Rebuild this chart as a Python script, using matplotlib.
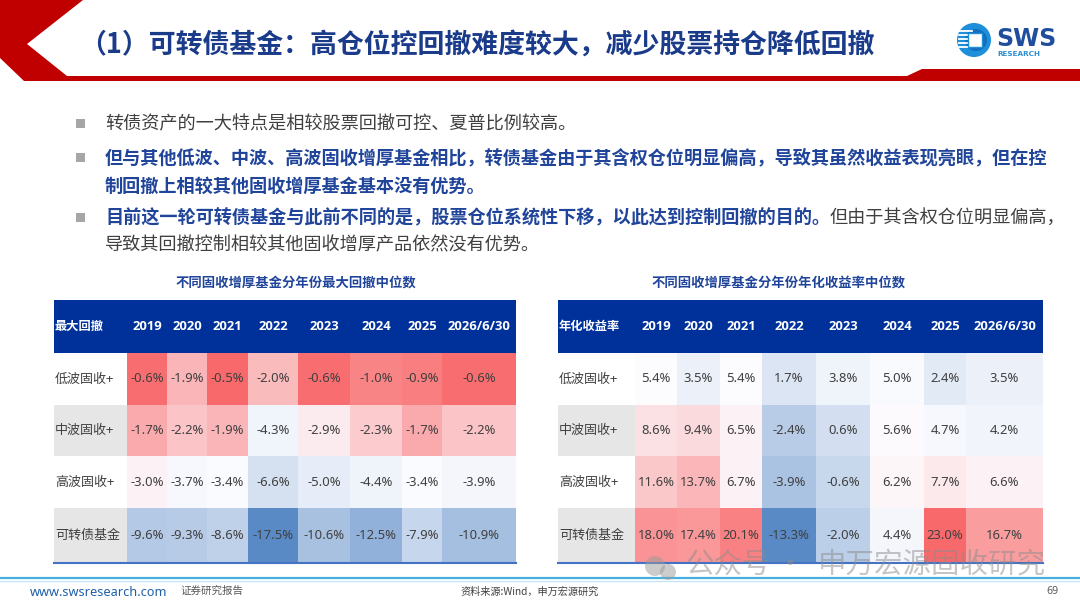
import numpy as np
import matplotlib
matplotlib.use("Agg")
import matplotlib.pyplot as plt
from matplotlib.colors import LinearSegmentedColormap, TwoSlopeNorm
from matplotlib.patches import Polygon, Circle, Rectangle

plt.rcParams['font.family'] = ['Noto Sans CJK SC', 'DejaVu Sans']

# ---------------- data ----------------
years = ["2019", "2020", "2021", "2022", "2023", "2024", "2025", "2026/6/30"]
fund_types = ["低波固收+", "中波固收+", "高波固收+", "可转债基金"]

drawdown_low = [-0.6, -1.9, -0.5, -2.0, -0.6, -1.0, -0.9, -0.6]
drawdown_mid = [-1.7, -2.2, -1.9, -4.3, -2.9, -2.3, -1.7, -2.2]
drawdown_high = [-3.0, -3.7, -3.4, -6.6, -5.0, -4.4, -3.4, -3.9]
drawdown_cb = [-9.6, -9.3, -8.6, -17.5, -10.6, -12.5, -7.9, -10.9]

return_low = [5.4, 3.5, 5.4, 1.7, 3.8, 5.0, 2.4, 3.5]
return_mid = [8.6, 9.4, 6.5, -2.4, 0.6, 5.6, 4.7, 4.2]
return_high = [11.6, 13.7, 6.7, -3.9, -0.6, 6.2, 7.7, 6.6]
return_cb = [18.0, 17.4, 20.1, -13.3, -2.0, 4.4, 23.0, 16.7]

title = "（1）可转债基金：高仓位控回撤难度较大，减少股票持仓降低回撤"
bullet1 = "转债资产的一大特点是相较股票回撤可控、夏普比例较高。"
bullet2a = "但与其他低波、中波、高波固收增厚基金相比，转债基金由于其含权仓位明显偏高，导致其虽然收益表现亮眼，但在控"
bullet2b = "制回撤上相较其他固收增厚基金基本没有优势。"
bullet3a_bold = "目前这一轮可转债基金与此前不同的是，股票仓位系统性下移，以此达到控制回撤的目的。"
bullet3a_norm = "但由于其含权仓位明显偏高，"
bullet3b = "导致其回撤控制相较其他固收增厚产品依然没有优势。"
subtitle_left = "不同固收增厚基金分年份最大回撤中位数"
subtitle_right = "不同固收增厚基金分年份年化收益率中位数"
header_left = "最大回撤"
header_right = "年化收益率"

# ---------------- layout (pixels) ----------------
W, H = 1080, 608
fig = plt.figure(figsize=(W / 100, H / 100), dpi=100)
ax = fig.add_axes([0, 0, 1, 1])
ax.set_xlim(0, W)
ax.set_ylim(H, 0)
ax.axis('off')

RED = '#C00000'
TITLE_BLUE = '#1A3A8A'
TEXT_BLUE = '#1F449A'
GRAY_TXT = '#404040'
HEADER_BLUE = '#00319A'

# red decoration
ax.add_patch(Polygon([(0, 0), (83, 0), (27, 44), (67, 76), (907, 76), (922, 69),
                      (1080, 69), (1080, 81), (24, 81), (0, 58)],
                     closed=True, facecolor=RED, edgecolor='none', zorder=2))

# title
ax.text(79, 45, title, fontsize=19.4, fontweight='bold', color=TITLE_BLUE,
        va='center', ha='left', zorder=3)

# logo
ax.add_patch(Circle((974, 40), 17, facecolor='#1E8FD8', edgecolor='none', zorder=3))
ax.add_patch(Circle((976, 40), 11, facecolor='#1170C0', edgecolor='none', zorder=3))
for yy in [31, 35, 39, 43, 47]:
    ax.plot([959, 972], [yy, yy], color='white', lw=1.3, zorder=4)
ax.add_patch(Rectangle((968, 33), 14, 14, facecolor='white', edgecolor='#1E8FD8', lw=1, zorder=5))
ax.text(996, 39, "SWS", fontsize=17, fontweight='bold', color='#1F4E9C',
        family=['DejaVu Sans'], va='center', ha='left', zorder=3)
ax.text(997, 54, "RESEARCH", fontsize=5.2, fontweight='bold', color='#2F8FD0',
        family=['DejaVu Sans'], va='center', ha='left', zorder=3)

# bullets
FS = 13.1
def bullet(y):
    ax.add_patch(Rectangle((76, y - 5), 9, 9, facecolor='#A6A6A6', edgecolor='none'))

bullet(124)
ax.text(105, 124, bullet1, fontsize=FS, color=GRAY_TXT, va='center', ha='left')
bullet(158)
ax.text(105, 158, bullet2a, fontsize=FS, color=TEXT_BLUE, fontweight='bold', va='center', ha='left')
ax.text(105, 186, bullet2b, fontsize=FS, color=TEXT_BLUE, fontweight='bold', va='center', ha='left')
bullet(218)
t_b = ax.text(105, 218, bullet3a_bold, fontsize=FS, color=TEXT_BLUE, fontweight='bold',
              va='center', ha='left')
fig.canvas.draw()
r = fig.canvas.get_renderer()
bb = t_b.get_window_extent(renderer=r)
x_end = ax.transData.inverted().transform((bb.x1, bb.y0))[0]
ax.text(x_end, 218, bullet3a_norm, fontsize=FS, color=GRAY_TXT, va='center', ha='left')
ax.text(105, 245, bullet3b, fontsize=FS, color=GRAY_TXT, va='center', ha='left')

# subtitles
ax.text(296, 283, subtitle_left, fontsize=9.6, color=TEXT_BLUE, fontweight='bold',
        va='center', ha='center')
ax.text(779, 283, subtitle_right, fontsize=9.6, color=TEXT_BLUE, fontweight='bold',
        va='center', ha='center')

# colormap (Excel style 3-colour scale)
cmap = LinearSegmentedColormap.from_list('xl', ['#5A8AC6', '#FCFCFF', '#F8696B'])

row_edges = [353, 405, 456, 508, 563]
head_top, head_bot = 300, 353


def draw_table(x_edges, header_label, data, fmt):
    data = np.array(data)
    vals = data.flatten()
    norm = TwoSlopeNorm(vmin=vals.min(), vcenter=float(np.median(vals)), vmax=vals.max())
    x0, x1 = x_edges[0], x_edges[-1]
    xl = x_edges[1]
    # header
    ax.add_patch(Rectangle((x0, head_top), x1 - x0, head_bot - head_top,
                           facecolor=HEADER_BLUE, edgecolor='none'))
    ax.text(x0 + 1, (head_top + head_bot) / 2, header_label, fontsize=8.8, fontweight='bold',
            color='white', va='center', ha='left')
    for j, yr in enumerate(years):
        xc = (x_edges[j + 1] + x_edges[j + 2]) / 2
        ax.text(xc, (head_top + head_bot) / 2, yr, fontsize=9.4, fontweight='bold',
                color='white', va='center', ha='center', family=['Open Sans', 'DejaVu Sans'])
    # label column
    for i, lab in enumerate(fund_types):
        fc = 'white' if i % 2 == 0 else '#E7E6E6'
        ax.add_patch(Rectangle((x0, row_edges[i]), xl - x0, row_edges[i + 1] - row_edges[i],
                               facecolor=fc, edgecolor='none'))
        ax.text(x0 + 1, (row_edges[i] + row_edges[i + 1]) / 2, lab, fontsize=9.4,
                color=GRAY_TXT, va='center', ha='left')
    # heat cells
    ax.pcolormesh(x_edges[1:], row_edges, data, cmap=cmap, norm=norm, shading='flat')
    for i in range(data.shape[0]):
        for j in range(data.shape[1]):
            xc = (x_edges[j + 1] + x_edges[j + 2]) / 2
            yc = (row_edges[i] + row_edges[i + 1]) / 2
            ax.text(xc, yc, fmt.format(data[i, j]), fontsize=9.4, color=GRAY_TXT,
                    va='center', ha='center', family=['Noto Sans', 'DejaVu Sans'])
    ax.plot([x0, x1], [row_edges[-1], row_edges[-1]], color='#4472C4', lw=1.5)


left_edges = [54, 127, 167, 207, 248, 298, 350, 402, 442, 516]
right_edges = [558, 635, 677, 720, 762, 816, 870, 924, 966, 1043]

draw_table(left_edges, header_left,
           [drawdown_low, drawdown_mid, drawdown_high, drawdown_cb], "{:.1f}%")
draw_table(right_edges, header_right,
           [return_low, return_mid, return_high, return_cb], "{:.1f}%")

# watermark
ax.add_patch(Circle((655, 566), 10, facecolor='#9A9A9A', alpha=0.5, edgecolor='none', zorder=6))
ax.add_patch(Circle((668, 572), 8, facecolor='#9A9A9A', alpha=0.5, edgecolor='none', zorder=6))
ax.text(686, 565, "公众号", fontsize=20.5, color='#8C8C8C', alpha=0.5,
        va='center', ha='left', zorder=6)
ax.text(790, 565, "·", fontsize=20.5, color='#8C8C8C', alpha=0.5,
        va='center', ha='center', zorder=6)
ax.text(1046, 565, "申万宏源固收研究", fontsize=20.5, color='#8C8C8C', alpha=0.5,
        va='center', ha='right', zorder=6)

# footer
ax.plot([0, W], [578, 578], color='#45B0E0', lw=1.6, zorder=5)
ax.plot([0, W], [580.5, 580.5], color='#C6E6F5', lw=1.0, zorder=5)
ax.text(30, 592, "www.swsresearch.com", fontsize=9.2, color='#1F5FA8', va='center', ha='left',
        family=['Noto Sans', 'DejaVu Sans'])
ax.text(180, 591, "证券研究报告", fontsize=7.6, color='#595959', va='center', ha='left')
ax.text(530, 592, "资料来源:Wind，申万宏源研究", fontsize=7.3, color='#404040', va='center', ha='center')
ax.text(1052, 591, "69", fontsize=7.6, color='#595959', va='center', ha='center',
        family=['Noto Sans', 'DejaVu Sans'])

fig.savefig("out.png", dpi=100)
